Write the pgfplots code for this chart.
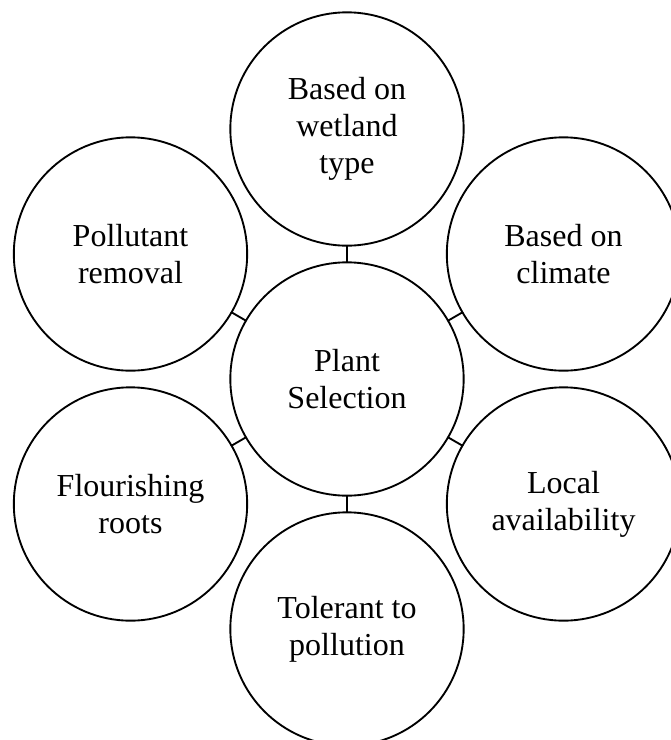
\documentclass[border=0pt]{standalone}
\usepackage{fontspec}
\setmainfont{Liberation Serif}
\usepackage{pgfplots}
\pgfplotsset{compat=1.18}
\begin{document}
\begin{tikzpicture}
\begin{axis}[
  scale only axis,
  width=503.25pt, height=555pt,
  xmin=0, xmax=671, ymin=0, ymax=740,
  y dir=reverse,
  hide axis,
  clip=true,
  clip marker paths=true,
]
% connectors
\addplot[black, line width=1.4pt] coordinates {(347,263) (347,245)};
\addplot[black, line width=1.4pt] coordinates {(447.5,321) (463,312)};
\addplot[black, line width=1.4pt] coordinates {(447.5,437) (463,446)};
\addplot[black, line width=1.4pt] coordinates {(347,495) (347,513)};
\addplot[black, line width=1.4pt] coordinates {(246.5,437) (231,446)};
\addplot[black, line width=1.4pt] coordinates {(246.5,321) (231,312)};
% circles with labels
\addplot[only marks, mark=o, mark size=87.5pt,
  mark options={black, line width=1.4pt, fill=none},
  point meta=explicit symbolic,
  nodes near coords,
  every node near coord/.append style={anchor=center, align=center,
    font=\fontsize{24}{27.75}\selectfont, text=black, inner sep=0pt},
] coordinates {
  (347,379) [{Plant\\Selection}]
  (347,129) [{Based on\\wetland\\type}]
  (563.5,254) [{Based on\\climate}]
  (563.5,504) [{Local\\availability}]
  (347,629) [{Tolerant to\\pollution}]
  (130.5,504) [{Flourishing\\roots}]
  (130.5,254) [{Pollutant\\removal}]
};
\end{axis}
\pgfresetboundingbox
\useasboundingbox (current axis.south west) rectangle (current axis.north east);
\end{tikzpicture}
\end{document}
